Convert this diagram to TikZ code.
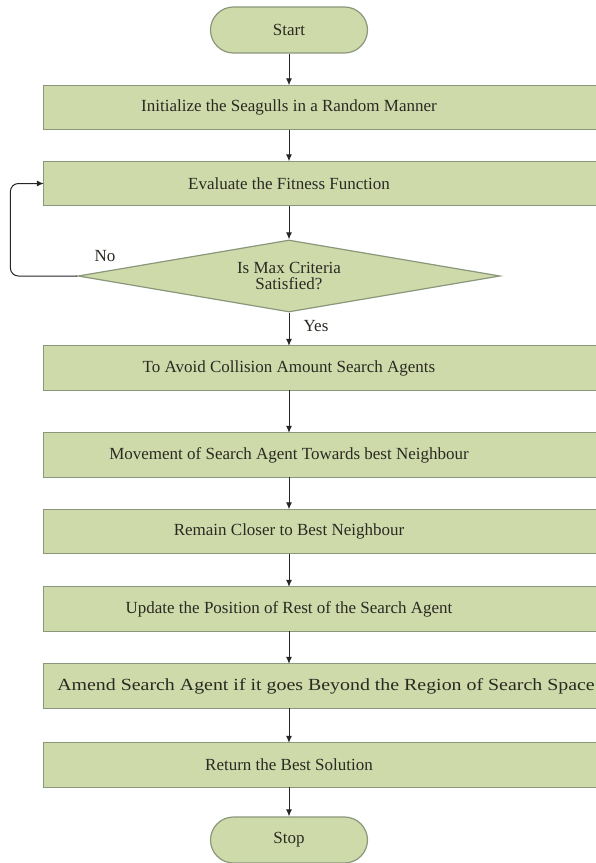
\documentclass[tikz,border=0pt]{standalone}
\usepackage{fontspec}
\setmainfont{Liberation Serif}
\usetikzlibrary{shapes.geometric,arrows.meta,backgrounds}
\definecolor{boxfill}{HTML}{CFDAAB}
\definecolor{boxline}{HTML}{8A977A}
\definecolor{txt}{HTML}{2A2A22}
\begin{document}
\begin{tikzpicture}[x=1pt,y=-1pt,
  every node/.style={font=\fontsize{17}{16}\selectfont, text=txt},
  procbox/.style={rectangle, minimum width=490pt, minimum height=44pt, inner sep=0pt},
  boxshape/.style={fill=boxfill, draw=boxline, line width=1.2pt},
  term/.style={rectangle, rounded corners=23pt, minimum width=157pt, minimum height=46pt, fill=boxfill, draw=boxline, line width=1.2pt},
  decision/.style={diamond, aspect=5.86, minimum width=422pt, minimum height=72pt, inner sep=0pt, fill=boxfill, draw=boxline, line width=1.2pt, align=center},
  flow/.style={draw=black!85, line width=1pt, -{Latex[length=7pt,width=6pt]}},
  lbl/.style={inner sep=0pt}
]
\useasboundingbox (0,0) rectangle (596,863);

\node[term] (start) at (289,30) {Start};
\node[procbox] (b1) at (289,107.5) {Initialize the Seagulls in a Random Manner};
\node[procbox] (b2) at (289,183.5) {Evaluate the Fitness Function};
\node[decision] (d) at (289,276) {Is Max Criteria\\Satisfied?};
\node[procbox] (b3) at (289,368) {To Avoid Collision Amount Search Agents};
\node[procbox] (b4) at (289,455) {Movement of Search Agent Towards best Neighbour};
\node[procbox] (b5) at (289,531.5) {Remain Closer to Best Neighbour};
\node[procbox] (b6) at (289,609) {Update the Position of Rest of the Search Agent};
\node[procbox] (b7) at (289,686) {\makebox[0pt]{\hspace{74pt}\scalebox{1.17}[1]{Amend Search Agent if it goes Beyond the Region of Search Space}}};
\node[procbox] (b8) at (289,765) {Return the Best Solution};
\node[term] (stop) at (289,840) {Stop};

\begin{scope}[on background layer]
\fill[white] (0,0) rectangle (596,863);
\foreach \i in {1,...,8} \path[boxshape] (b\i.north west) rectangle ([xshift=100pt]b\i.south east);
\end{scope}

\node[lbl] (no) at (105,256) {No};
\node[lbl] (yes) at (316,326) {Yes};

\draw[flow] (start) -- (b1);
\draw[flow] (b1) -- (b2);
\draw[flow] (b2) -- (d);
\draw[flow] (d) -- (b3);
\draw[flow] (b3) -- (b4);
\draw[flow] (b4) -- (b5);
\draw[flow] (b5) -- (b6);
\draw[flow] (b6) -- (b7);
\draw[flow] (b7) -- (b8);
\draw[flow] (b8) -- (stop);
\draw[flow, rounded corners=8pt] (d.west) -- ++(-67,0) |- (b2.west);
\end{tikzpicture}
\end{document}
